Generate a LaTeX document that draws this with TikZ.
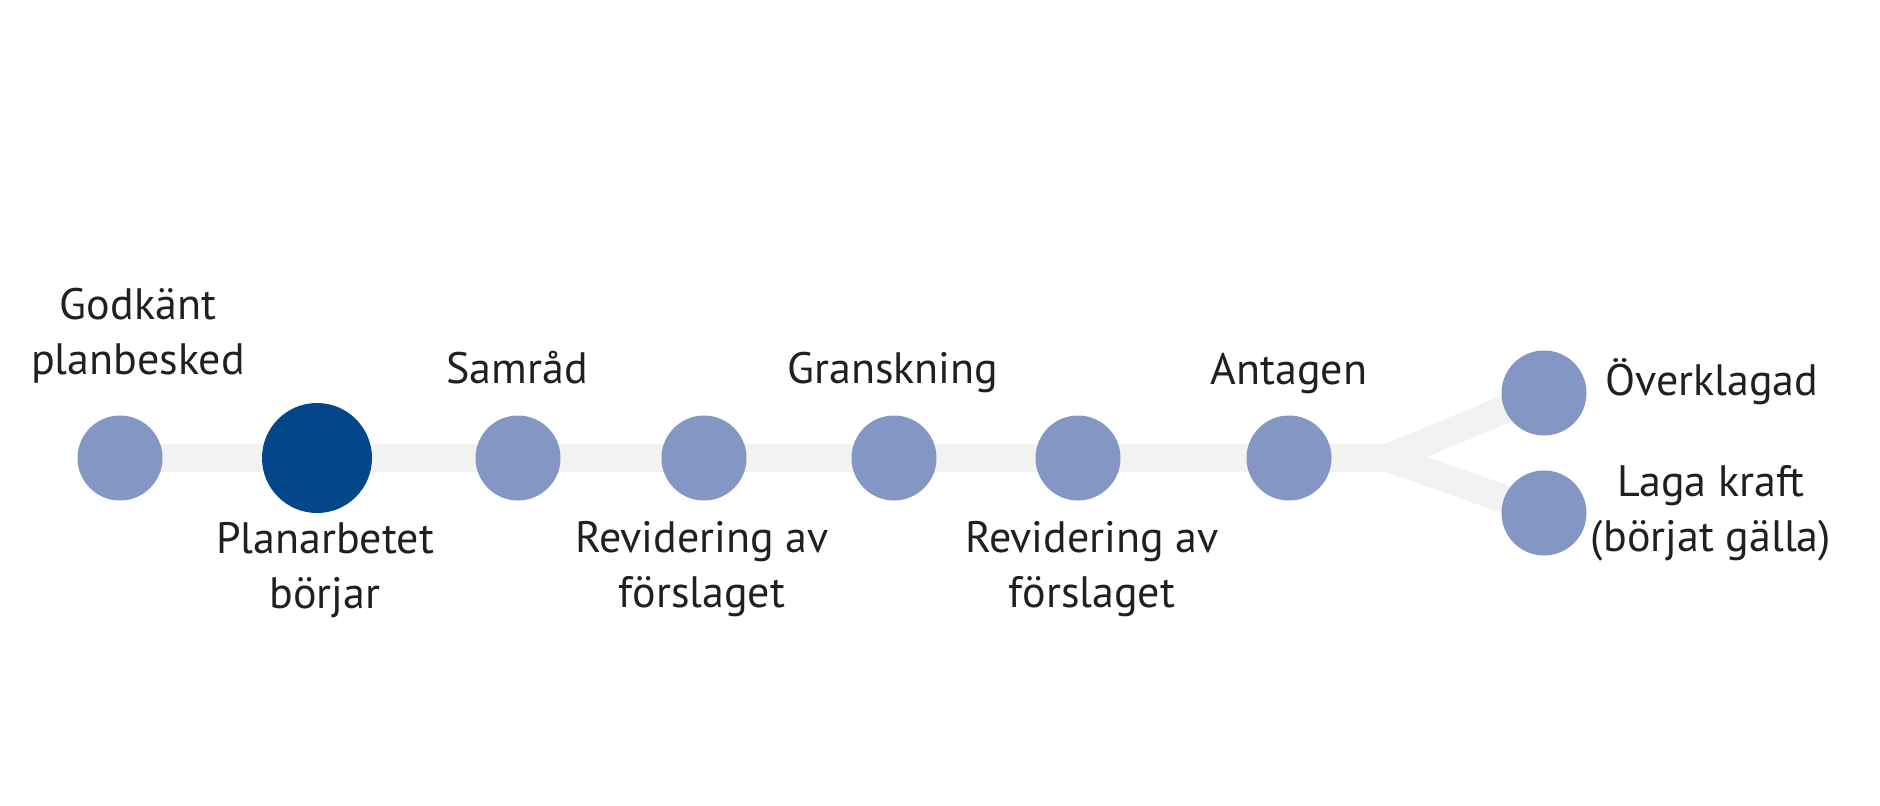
\documentclass[tikz,border=0pt]{standalone}
\usepackage{fontspec}
\setmainfont{PT Sans}
\usetikzlibrary{backgrounds}
\definecolor{stepblue}{HTML}{8396C4}
\definecolor{activeblue}{HTML}{03468A}
\definecolor{trackgray}{HTML}{F2F2F2}
\definecolor{textcol}{HTML}{231F20}
\begin{document}
\begin{tikzpicture}[x=1pt,y=-1pt,
  stepdot/.style={circle,fill=stepblue,minimum size=85pt,inner sep=0pt},
  activedot/.style={circle,fill=activeblue,minimum size=110pt,inner sep=0pt},
  track/.style={draw=trackgray,line width=28pt,line join=miter},
  lbl/.style={font=\fontsize{44}{55}\selectfont,text=textcol,align=center,inner sep=0pt,anchor=base}]
\useasboundingbox (0,0) rectangle (1880,806);
\node[stepdot] (c1) at (120,458) {};
\node[activedot] (c2) at (317,458) {};
\node[stepdot] (c3) at (518,458) {};
\node[stepdot] (c4) at (704,458) {};
\node[stepdot] (c5) at (894,458) {};
\node[stepdot] (c6) at (1078,458) {};
\node[stepdot] (c7) at (1289,458) {};
\node[stepdot] (c8) at (1544,393) {};
\node[stepdot] (c9) at (1544,513) {};
\coordinate (split) at (1388,458);
\begin{pgfonlayer}{background}
\draw[track] (c1.center) -- (c7.center) -- (split) -- (c8.center);
\draw[track] (c7.center) -- (split) -- (c9.center);
\end{pgfonlayer}
\node[lbl] (t1) at (138,374) {Godkänt\\planbesked};
\node[lbl] (t2) at (325,608) {Planarbetet\\börjar};
\node[lbl] (t3) at (517,383) {Samråd};
\node[lbl] (t4) at (702,607) {Revidering av\\förslaget};
\node[lbl] (t5) at (893,383) {Granskning};
\node[lbl] (t6) at (1092,607) {Revidering av\\förslaget};
\node[lbl] (t7) at (1289,384) {Antagen};
\node[lbl] (t8) at (1712,395) {Överklagad};
\node[lbl] (t9) at (1711,551) {Laga kraft\\(börjat gälla)};
\end{tikzpicture}
\end{document}
